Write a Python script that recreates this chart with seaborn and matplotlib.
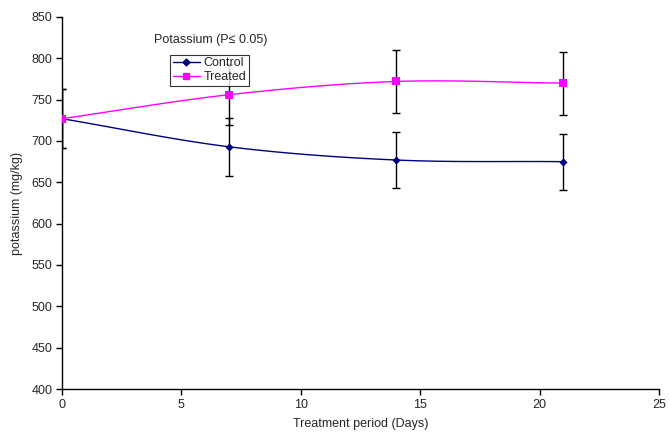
import numpy as np
import pandas as pd
import matplotlib
matplotlib.use("Agg")
import matplotlib.pyplot as plt
from matplotlib.lines import Line2D
import seaborn as sns

days = [0, 7, 14, 21]
control = [727, 693, 677, 675]
control_err = [36, 35, 34, 34]
treated = [727, 756, 772, 770]
treated_err = [36, 37, 38, 38]
title_text = "Potassium (P\u2264 0.05)"
xlabel = "Treatment period (Days)"
ylabel = "potassium (mg/kg)"

sns.set_theme(style="white")
plt.rcParams['font.family'] = ['Liberation Sans', 'DejaVu Sans']


def smooth(x, y, n=30):
    # Catmull-Rom style smoothing like Excel's "smoothed line"
    x = np.asarray(x, float); y = np.asarray(y, float)
    px = np.concatenate([[2 * x[0] - x[1]], x, [2 * x[-1] - x[-2]]])
    py = np.concatenate([[2 * y[0] - y[1]], y, [2 * y[-1] - y[-2]]])
    xs, ys = [], []
    t = np.linspace(0, 1, n)
    for i in range(1, len(px) - 2):
        p0, p1, p2, p3 = (np.array([px[j], py[j]]) for j in range(i - 1, i + 3))
        c1 = p1 + (p2 - p0) / 6
        c2 = p2 - (p3 - p1) / 6
        pts = ((1 - t) ** 3)[:, None] * p1 + (3 * (1 - t) ** 2 * t)[:, None] * c1 \
            + (3 * (1 - t) * t ** 2)[:, None] * c2 + (t ** 3)[:, None] * p2
        xs.extend(pts[:, 0]); ys.extend(pts[:, 1])
    return np.array(xs), np.array(ys)


fig = plt.figure(figsize=(6.69, 4.32), dpi=100)
ax = fig.add_axes([62 / 669, 1 - 389 / 432, (659 - 62) / 669, (389 - 17) / 432])

navy = "#000080"
pink = "#FF00FF"
fs = 9

for vals, errs, col, mk, ms in [(control, control_err, navy, "D", 3.5),
                                (treated, treated_err, pink, "s", 5)]:
    sx, sy = smooth(days, vals)
    sns.lineplot(x=sx, y=sy, ax=ax, color=col, lw=1, sort=False, estimator=None)
    ax.errorbar(days, vals, yerr=errs, fmt="none", ecolor="black",
                elinewidth=1, capsize=3, capthick=1, zorder=3)
    sns.scatterplot(x=days, y=vals, ax=ax, color=col, marker=mk, s=ms ** 2 * 1.4,
                    edgecolor=col, linewidth=0, zorder=4)

ax.set_xlim(0, 25)
ax.set_ylim(400, 850)
ax.set_xticks(range(0, 26, 5))
ax.set_yticks(range(400, 851, 50))
for s in ["top", "right"]:
    ax.spines[s].set_visible(False)
for s in ["left", "bottom"]:
    ax.spines[s].set_color("black")
    ax.spines[s].set_linewidth(1)
ax.tick_params(axis="both", direction="out", length=4, width=1, color="black",
               labelsize=fs, pad=3, left=True, bottom=True)
ax.set_xlabel(xlabel, fontsize=fs, labelpad=5)
ax.set_ylabel(ylabel, fontsize=fs, labelpad=6)

ax.text(6.24, 822, title_text, fontsize=fs, ha="center", va="center")

handles = [Line2D([], [], color=navy, marker="D", ms=3.5, lw=1),
           Line2D([], [], color=pink, marker="s", ms=5, lw=1)]
leg = ax.legend(handles, ["Control", "Treated"], loc="upper left",
                bbox_to_anchor=(108 / 597, 1 - 38 / 372), fontsize=fs,
                frameon=True, fancybox=False, edgecolor="black",
                borderpad=0.2, handlelength=2.2, handletextpad=0.3,
                labelspacing=0.15, borderaxespad=0)
leg.get_frame().set_linewidth(0.8)

fig.savefig("out.png", dpi=100)
